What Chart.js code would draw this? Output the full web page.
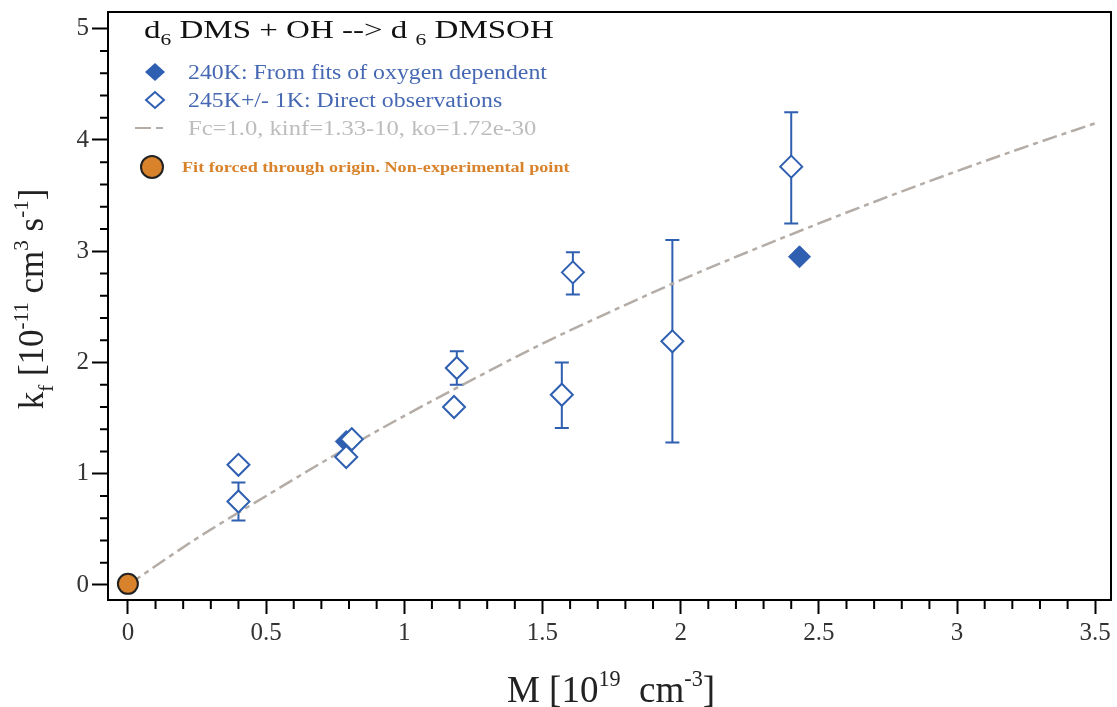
<!DOCTYPE html>
<html>
<head>
<meta charset="utf-8">
<title>d6 DMS + OH --> d6 DMSOH</title>
<script src="https://cdn.jsdelivr.net/npm/chart.js@4.4.1/dist/chart.umd.min.js"></script>
<style>
  body { margin: 0; background: #fff; }
  #wrap { width: 1117px; height: 707px; }
</style>
</head>
<body>
<div id="wrap"><canvas id="chart" width="1117" height="707"></canvas></div>
<script>
// d6 DMS + OH --> d6 DMSOH : kf vs M, with falloff curve

const xTicks = [0, 0.5, 1, 1.5, 2, 2.5, 3, 3.5];
const yTicks = [0, 1, 2, 3, 4, 5];

// 240K: from fits of oxygen dependent data
const fitsX = [0.79, 2.43];
const fitsY = [1.29, 2.95];

// 245K +/- 1K: direct observations (null = no error bar)
const directX  = [0.40, 0.40, 0.79, 0.81, 1.19, 1.18, 1.61, 1.57, 1.97, 2.40];
const directY  = [1.08, 0.75, 1.15, 1.31, 1.95, 1.60, 2.81, 1.71, 2.19, 3.76];
const directLo = [null, 0.58, null, null, 1.80, null, 2.61, 1.41, 1.28, 3.25];
const directHi = [null, 0.92, null, null, 2.10, null, 2.99, 2.00, 3.10, 4.25];

// Fc=1.0, kinf=1.33-10, ko=1.72e-30
const curveX = [0, 0.25, 0.5, 0.75, 1, 1.25, 1.5, 1.75, 2, 2.25, 2.5, 2.75, 3, 3.25, 3.5];
const curveY = [0, 0.42, 0.80, 1.17, 1.52, 1.85, 2.17, 2.46, 2.74, 3.00, 3.25, 3.49, 3.72, 3.94, 4.15];

// fit forced through origin
const originX = [0];
const originY = [0.01];

const SERIF = "'Liberation Serif', 'Times New Roman', serif";
const BLUE = '#2f5fb0';
const BLUE_TEXT = '#4668b3';
const GREY = '#b4aca6';
const ORANGE = '#d8832c';

function pts(xs, ys) {
    return xs.map((v, i) => ({ x: v, y: ys[i] }));
}

// draw text made of normal / sub / sup pieces, optionally stretched sideways
function richText(ctx, x, y, parts, size, opts) {
    opts = opts || {};
    const sx = opts.stretch || 1;
    const small = opts.small || 0.65;
    const font = s => `${opts.weight || ''} ${s}px ${SERIF}`;
    let total = 0;
    parts.forEach(p => {
        ctx.font = font(p[1] ? size * small : size);
        total += ctx.measureText(p[0]).width;
    });
    ctx.save();
    ctx.translate(x, y);
    ctx.scale(sx, 1);
    let cx = opts.align === 'center' ? -total / 2 : 0;
    parts.forEach(p => {
        const s = p[1] ? size * small : size;
        ctx.font = font(s);
        let dy = 0;
        if (p[1] === 'sub') dy = size * 0.28;
        if (p[1] === 'sup') dy = -size * 0.42;
        ctx.fillText(p[0], cx, dy);
        cx += ctx.measureText(p[0]).width;
    });
    ctx.restore();
}

const errorBars = {
    id: 'errorBars',
    beforeDatasetsDraw(chart) {
        const { ctx, scales: { x, y } } = chart;
        ctx.save();
        ctx.strokeStyle = BLUE;
        ctx.lineWidth = 2;
        directX.forEach((v, i) => {
            if (directLo[i] == null) return;
            const px = x.getPixelForValue(v);
            const lo = y.getPixelForValue(directLo[i]);
            const hi = y.getPixelForValue(directHi[i]);
            ctx.beginPath();
            ctx.moveTo(px, lo); ctx.lineTo(px, hi);
            ctx.moveTo(px - 7, lo); ctx.lineTo(px + 7, lo);
            ctx.moveTo(px - 7, hi); ctx.lineTo(px + 7, hi);
            ctx.stroke();
        });
        ctx.restore();
    }
};

const decorations = {
    id: 'decorations',
    afterDraw(chart) {
        const { ctx, chartArea: a, scales: { x, y } } = chart;
        ctx.save();

        // minor ticks
        ctx.strokeStyle = '#000';
        ctx.lineWidth = 2;
        ctx.beginPath();
        for (let i = 0; i <= 35; i++) {
            if (i % 5 === 0) continue;
            const px = x.getPixelForValue(i / 10);
            ctx.moveTo(px, a.bottom); ctx.lineTo(px, a.bottom + 9);
        }
        for (let i = 0; i <= 25; i++) {
            if (i % 5 === 0) continue;
            const py = y.getPixelForValue(i / 5);
            ctx.moveTo(a.left, py); ctx.lineTo(a.left - 8, py);
        }
        ctx.stroke();

        // frame
        ctx.strokeRect(a.left, a.top, a.right - a.left, a.bottom - a.top);

        // axis titles
        ctx.fillStyle = '#222';
        ctx.textBaseline = 'alphabetic';
        ctx.textAlign = 'left';
        richText(ctx, 611, 702, [['M [10'], ['19', 'sup'], ['  cm'], ['-3', 'sup'], [']']], 37, { align: 'center', small: 0.6 });
        ctx.save();
        ctx.translate(43, 299);
        ctx.rotate(-Math.PI / 2);
        richText(ctx, 0, 0, [['k'], ['f', 'sub'], [' [10'], ['-11', 'sup'], [' cm'], ['3', 'sup'], [' s'], ['-1', 'sup'], [']']], 35, { align: 'center', small: 0.6 });
        ctx.restore();

        // legend
        ctx.fillStyle = '#111';
        richText(ctx, 144, 38, [['d'], ['6', 'sub'], [' DMS + OH --> d '], ['6', 'sub'], [' DMSOH']], 25, { stretch: 1.32 });

        ctx.fillStyle = BLUE;
        ctx.beginPath();
        ctx.moveTo(145, 72); ctx.lineTo(155, 63); ctx.lineTo(165, 72); ctx.lineTo(155, 81);
        ctx.closePath();
        ctx.fill();
        ctx.fillStyle = BLUE_TEXT;
        richText(ctx, 188, 79, [['240K: From fits of oxygen dependent']], 20, { stretch: 1.19 });

        ctx.strokeStyle = BLUE;
        ctx.beginPath();
        ctx.moveTo(146, 100); ctx.lineTo(155, 92); ctx.lineTo(164, 100); ctx.lineTo(155, 108);
        ctx.closePath();
        ctx.stroke();
        richText(ctx, 188, 107, [['245K+/- 1K: Direct observations']], 20, { stretch: 1.19 });

        ctx.strokeStyle = GREY;
        ctx.lineWidth = 2;
        ctx.beginPath();
        ctx.moveTo(135, 128); ctx.lineTo(151, 128);
        ctx.moveTo(156, 128); ctx.lineTo(163, 128);
        ctx.stroke();
        ctx.fillStyle = '#bdbdbd';
        richText(ctx, 188, 135, [['Fc=1.0, kinf=1.33-10, ko=1.72e-30']], 20, { stretch: 1.23 });

        ctx.fillStyle = ORANGE;
        ctx.strokeStyle = '#222';
        ctx.beginPath();
        ctx.arc(152, 167, 11, 0, Math.PI * 2);
        ctx.fill();
        ctx.stroke();
        richText(ctx, 182, 172, [['Fit forced through origin. Non-experimental point']], 15, { weight: 'bold', stretch: 1.21 });

        ctx.restore();
    }
};

const axisBase = {
    type: 'linear',
    border: { display: false },
    grid: {
        drawOnChartArea: false,
        tickColor: '#000',
        tickWidth: 2
    },
    ticks: {
        color: '#333',
        font: { family: SERIF, size: 25 }
    }
};

new Chart(document.getElementById('chart'), {
    type: 'scatter',
    data: {
        datasets: [
            {
                label: 'origin',
                data: pts(originX, originY),
                pointStyle: 'circle',
                pointRadius: 10,
                backgroundColor: ORANGE,
                borderColor: '#222',
                borderWidth: 2,
                order: 0
            },
            {
                label: '240K: From fits of oxygen dependent',
                data: pts(fitsX, fitsY),
                pointStyle: 'rectRot',
                pointRadius: 11,
                backgroundColor: BLUE,
                borderColor: BLUE,
                borderWidth: 1,
                order: 2
            },
            {
                label: '245K+/- 1K: Direct observations',
                data: pts(directX, directY),
                pointStyle: 'rectRot',
                pointRadius: 11,
                backgroundColor: '#fff',
                borderColor: BLUE,
                borderWidth: 2,
                order: 1
            },
            {
                label: 'Fc=1.0, kinf=1.33-10, ko=1.72e-30',
                type: 'line',
                data: pts(curveX, curveY),
                borderColor: GREY,
                borderWidth: 2.5,
                borderDash: [15, 5, 5, 5],
                pointRadius: 0,
                cubicInterpolationMode: 'monotone',
                fill: false,
                order: 3
            }
        ]
    },
    options: {
        responsive: false,
        animation: false,
        layout: { autoPadding: false, padding: { top: 12, right: 6, left: 0, bottom: 0 } },
        plugins: {
            legend: { display: false },
            tooltip: { enabled: false }
        },
        scales: {
            x: {
                ...axisBase,
                min: -0.072,
                max: 3.557,
                grid: { ...axisBase.grid, tickLength: 14 },
                afterBuildTicks: s => { s.ticks = xTicks.map(v => ({ value: v })); },
                afterFit: s => { s.height = 107; },
                ticks: { ...axisBase.ticks, padding: 4, maxRotation: 0, callback: v => String(v) }
            },
            y: {
                ...axisBase,
                min: -0.135,
                max: 5.15,
                grid: { ...axisBase.grid, tickLength: 16 },
                afterBuildTicks: s => { s.ticks = yTicks.map(v => ({ value: v })); },
                afterFit: s => { s.width = 108; s.paddingTop = 0; s.paddingBottom = 0; },
                ticks: { ...axisBase.ticks, font: { family: SERIF, size: 25, lineHeight: 0.6 }, padding: 3, callback: v => String(v) }
            }
        }
    },
    plugins: [errorBars, decorations]
});
</script>
</body>
</html>
